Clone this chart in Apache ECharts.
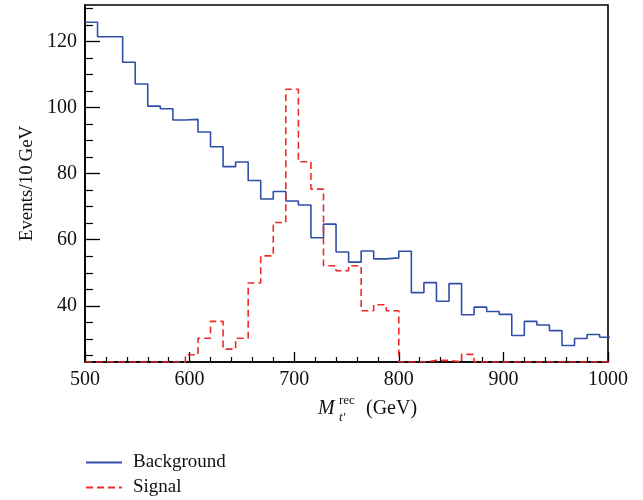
<!DOCTYPE html>
<html>
<head>
<meta charset="utf-8">
<script src="https://cdn.jsdelivr.net/npm/echarts@6/dist/echarts.min.js"></script>
<style>
  html, body { margin:0; padding:0; background:#fff; }
  #chart { width:643px; height:500px; }
</style>
</head>
<body>
<div id="chart"></div>
<script>
// histogram bins: 12 GeV wide starting at 500 GeV
const binStart = 500;
const binWidth = 12;

// Background (blue solid), one value per bin
const backgroundValues = [
  125.8, 121.4, 121.4, 113.7, 107.1, 100.4, 99.6, 96.2, 96.4, 92.6,
  88.1, 82.1, 83.5, 77.9, 72.3, 74.6, 71.7, 70.5, 60.6, 64.7,
  56.3, 53.2, 56.6, 54.2, 54.5, 56.5, 44.0, 47.0, 41.4, 46.7,
  37.3, 39.6, 38.3, 37.4, 31.0, 35.3, 34.2, 32.5, 28.0, 30.1,
  31.3, 30.5
];

// Signal (red dashed), one value per bin
const signalValues = [
  23, 23, 23, 23, 23, 23, 23, 23, 25.2, 30.2,
  35.3, 26.9, 30.2, 46.9, 55.1, 65.2, 105.5, 83.6, 75.3, 52.1,
  50.6, 52.1, 38.5, 40.3, 38.5, 23, 23, 23.5, 23.5, 23,
  25.3, 23, 23, 23, 23, 23, 23, 23, 23, 23,
  23, 23
];

const yLabelValues = [40, 60, 80, 100, 120];
const yMinorTicks = [25, 30, 35, 45, 50, 55, 65, 70, 75, 85, 90, 95, 105, 110, 115, 125, 130];

// --- turn bin values into step points (left edge of each bin + closing edge)
function toSteps(values) {
  const pts = values.map((v, i) => [binStart + i * binWidth, v]);
  pts.push([binStart + values.length * binWidth, values[values.length - 1]]);
  return pts;
}

const serif = '"Liberation Serif","DejaVu Serif",serif';
const chart = echarts.init(document.getElementById('chart'));

// one legend block per entry, stacked like the original key
const legendBase = {
  orient: 'vertical',
  left: 80,
  itemWidth: 36, itemHeight: 14,
  itemStyle: { opacity: 0 },
  textStyle: { fontFamily: serif, fontSize: 19, color: '#111', padding: [0, 0, 0, 6] }
};

const option = {
  animation: false,
  grid: {
    left: 85, right: 35, top: 5, bottom: 138,
    show: true, borderColor: '#000', borderWidth: 1.6, backgroundColor: 'transparent'
  },
  legend: [
    Object.assign({}, legendBase, { top: 448, data: ['Background'] }),
    Object.assign({}, legendBase, { top: 473, data: ['Signal'] })
  ],
  xAxis: {
    type: 'value',
    min: 500, max: 1000, interval: 100,
    axisLine: { lineStyle: { color: '#000', width: 1.6 } },
    axisTick: { inside: true, length: 10, lineStyle: { color: '#000', width: 1.3 } },
    minorTick: { show: true, splitNumber: 5, length: 5, lineStyle: { color: '#000', width: 1.2 } },
    axisLabel: { fontFamily: serif, fontSize: 20, color: '#111', margin: 8, formatter: (v) => String(v) },
    splitLine: { show: false }
  },
  yAxis: [
    {
      type: 'value',
      min: 23, max: 131,
      name: 'Events/10\u2009GeV',
      nameLocation: 'middle',
      nameGap: 48,
      nameTextStyle: { fontFamily: serif, fontSize: 19, color: '#111' },
      axisLine: { lineStyle: { color: '#000', width: 1.6 } },
      axisTick: { inside: true, length: 15, customValues: yLabelValues, lineStyle: { color: '#000', width: 1.3 } },
      axisLabel: { customValues: yLabelValues, fontFamily: serif, fontSize: 20, color: '#111', margin: 8 },
      splitLine: { show: false }
    },
    {
      type: 'value',
      position: 'left',
      min: 23, max: 131,
      axisLine: { show: false },
      axisTick: { inside: true, length: 8, customValues: yMinorTicks, lineStyle: { color: '#000', width: 1.2 } },
      axisLabel: { show: false },
      splitLine: { show: false }
    }
  ],
  graphic: [
    { type: 'text', left: 318, top: 399, style: { text: 'M', font: 'italic 20px ' + serif, fill: '#111' } },
    { type: 'text', left: 339, top: 394, style: { text: 'rec', font: '13px ' + serif, fill: '#111' } },
    { type: 'text', left: 339, top: 411, style: { text: 't\u2032', font: 'italic 13px ' + serif, fill: '#111' } },
    { type: 'text', left: 366, top: 399, style: { text: '(GeV)', font: '20px ' + serif, fill: '#111' } }
  ],
  series: [
    {
      name: 'Background',
      type: 'line',
      step: 'end',
      symbol: 'none',
      data: toSteps(backgroundValues),
      lineStyle: { color: '#2f50a8', width: 1.6 },
      itemStyle: { color: '#2f50a8' }
    },
    {
      name: 'Signal',
      type: 'line',
      step: 'end',
      symbol: 'none',
      data: toSteps(signalValues),
      lineStyle: { color: '#f02a2a', width: 1.6, type: [7, 4] },
      itemStyle: { color: '#f02a2a' }
    }
  ]
};

chart.setOption(option);
</script>
</body>
</html>
